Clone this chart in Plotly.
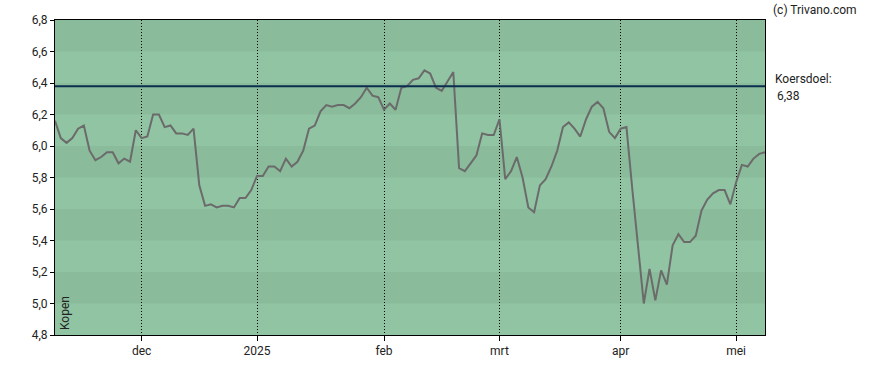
import pandas as pd
import plotly.graph_objects as go

# Trading days (Euronext) from 11 Nov 2024 to 9 May 2025
holidays = ["2024-12-25", "2024-12-26", "2025-01-01", "2025-04-18", "2025-04-21", "2025-05-01"]
days = [d for d in pd.bdate_range("2024-11-11", "2025-05-09") if d.strftime("%Y-%m-%d") not in holidays]
dates = [d.strftime("%Y-%m-%d") for d in days]

prices = [
    6.16, 6.05, 6.02, 6.05, 6.11, 6.13, 5.97, 5.91, 5.93, 5.96,
    5.96, 5.89, 5.92, 5.90, 6.10, 6.05, 6.06, 6.20, 6.20, 6.12,
    6.13, 6.08, 6.08, 6.07, 6.11, 5.75, 5.62, 5.63, 5.61, 5.62,
    5.62, 5.61, 5.67, 5.67, 5.72, 5.81, 5.81, 5.87, 5.87, 5.84,
    5.92, 5.87, 5.90, 5.97, 6.11, 6.13, 6.22, 6.26, 6.25, 6.26,
    6.26, 6.24, 6.27, 6.31, 6.37, 6.32, 6.31, 6.23, 6.27, 6.23,
    6.37, 6.38, 6.42, 6.43, 6.48, 6.46, 6.37, 6.35, 6.41, 6.47,
    5.86, 5.84, 5.89, 5.94, 6.08, 6.07, 6.07, 6.17, 5.79, 5.84,
    5.93, 5.80, 5.61, 5.58, 5.75, 5.79, 5.87, 5.97, 6.12, 6.15,
    6.11, 6.06, 6.17, 6.25, 6.28, 6.24, 6.09, 6.05, 6.11, 6.12,
    5.73, 5.38, 5.00, 5.22, 5.02, 5.21, 5.12, 5.37, 5.44, 5.39,
    5.39, 5.43, 5.59, 5.66, 5.70, 5.72, 5.72, 5.63, 5.77, 5.88,
    5.87, 5.92, 5.95, 5.96,
]

target = 6.38
tick_dates = ["2024-12-02", "2025-01-02", "2025-02-03", "2025-03-03", "2025-04-01", "2025-05-02"]
tick_labels = ["dec", "2025", "feb", "mrt", "apr", "mei"]
y_ticks = [4.8, 5.0, 5.2, 5.4, 5.6, 5.8, 6.0, 6.2, 6.4, 6.6, 6.8]

DARK = "#8abb9a"
LIGHT = "#91c4a3"

fig = go.Figure()
fig.add_trace(go.Scatter(
    x=dates, y=prices, mode="lines",
    line=dict(color="#6b6b6b", width=2),
    hoverinfo="skip", showlegend=False,
))

shapes = []
for k in range(len(y_ticks) - 1):
    lo, hi = y_ticks[k], y_ticks[k + 1]
    if k % 2 == 1:
        shapes.append(dict(type="rect", xref="paper", yref="y", x0=0, x1=1, y0=lo, y1=hi,
                           fillcolor=DARK, line=dict(width=0), layer="below"))
shapes.append(dict(type="line", xref="paper", yref="y", x0=0, x1=1, y0=target, y1=target,
                   line=dict(color="#0b2d4f", width=2), layer="above"))

fig.update_layout(
    width=888, height=370,
    margin=dict(l=55, r=123, t=20, b=35),
    paper_bgcolor="white", plot_bgcolor=LIGHT,
    separators=", ",
    font=dict(family="Roboto, Arial, sans-serif", size=12, color="#222222"),
    shapes=shapes,
    xaxis=dict(
        type="category", range=[0, len(dates) - 1],
        tickmode="array", tickvals=tick_dates, ticktext=tick_labels,
        showgrid=True, gridcolor="black", griddash="1px,2px", gridwidth=1,
        showline=True, linecolor="black", linewidth=1, mirror=True,
        ticks="outside", ticklen=5, tickcolor="black",
        layer="above traces",
    ),
    yaxis=dict(
        range=[4.8, 6.8], tickmode="array", tickvals=y_ticks, tickformat=".1f",
        showgrid=False, zeroline=False,
        showline=True, linecolor="black", linewidth=1, mirror=True,
        ticks="outside", ticklen=4, tickcolor="black",
    ),
    annotations=[
        dict(text="(c) Trivano.com", xref="paper", yref="paper", x=1.0, y=1.0,
             xshift=6, yshift=19, xanchor="left", yanchor="top", showarrow=False,
             font=dict(size=12, color="#222222")),
        dict(text="Koersdoel:", xref="paper", yref="y", x=1.0, y=target,
             xshift=8, yshift=-2, xanchor="left", yanchor="bottom", showarrow=False,
             font=dict(size=12, color="#222222")),
        dict(text="6,38", xref="paper", yref="y", x=1.0, y=target,
             xshift=10, yshift=-1, xanchor="left", yanchor="top", showarrow=False,
             font=dict(size=12, color="#222222")),
        dict(text="Kopen", xref="paper", yref="paper", x=0, y=0,
             xshift=1, yshift=3, xanchor="left", yanchor="bottom", textangle=-90,
             showarrow=False, font=dict(size=12, color="#222222")),
    ],
)

fig.write_html("out.html", config={"displayModeBar": False},
               post_script="document.body.style.margin='0';")
